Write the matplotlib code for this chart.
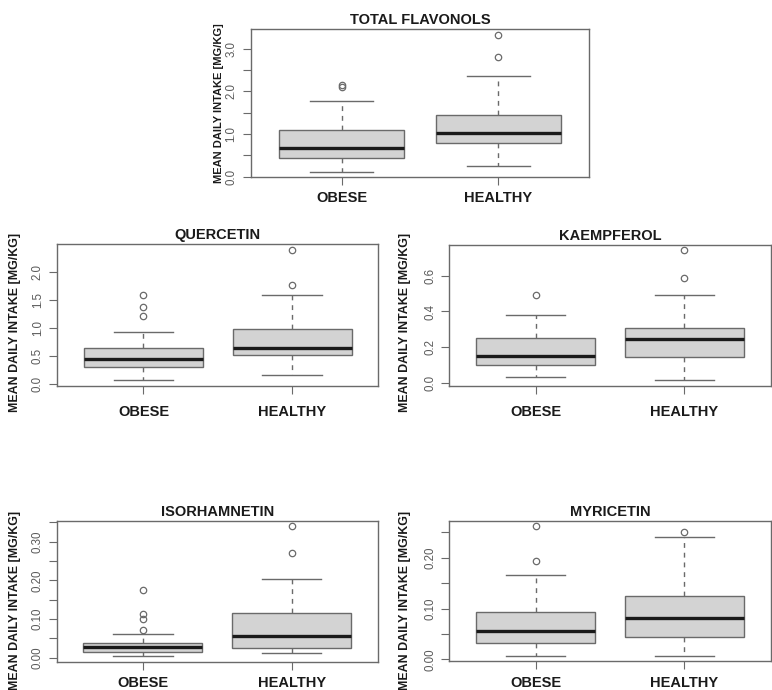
import matplotlib
matplotlib.use("Agg")
import matplotlib.pyplot as plt

# ---- data -------------------------------------------------------------
compounds = ["TOTAL FLAVONOLS", "QUERCETIN", "KAEMPFEROL", "ISORHAMNETIN", "MYRICETIN"]
groups = ["OBESE", "HEALTHY"]

# box-plot statistics per compound: [obese, healthy]
whislo = [[0.117, 0.25], [0.07, 0.17], [0.030, 0.013], [0.0035, 0.012], [0.0066, 0.0066]]
q1 = [[0.446, 0.78], [0.30, 0.52], [0.102, 0.142], [0.0156, 0.025], [0.033, 0.044]]
med = [[0.68, 1.02], [0.45, 0.64], [0.151, 0.247], [0.028, 0.056], [0.056, 0.081]]
q3 = [[1.10, 1.45], [0.64, 0.98], [0.253, 0.308], [0.038, 0.115], [0.093, 0.125]]
whishi = [[1.78, 2.37], [0.92, 1.58], [0.383, 0.494], [0.062, 0.204], [0.166, 0.241]]
fliers = [
    [[2.10, 2.14], [2.80, 3.33]],
    [[1.22, 1.375, 1.59], [1.76, 2.39]],
    [[0.492], [0.587, 0.747]],
    [[0.073, 0.100, 0.114, 0.175], [0.271, 0.340]],
    [[0.194, 0.262], [0.251]],
]

ytick_values = [
    [0.0, 0.5, 1.0, 1.5, 2.0, 2.5, 3.0],
    [0.0, 0.5, 1.0, 1.5, 2.0],
    [0.0, 0.2, 0.4, 0.6],
    [0.0, 0.05, 0.10, 0.15, 0.20, 0.25, 0.30, 0.35],
    [0.0, 0.05, 0.10, 0.15, 0.20, 0.25],
]
ytick_labels = [
    ["0.0", "", "1.0", "", "2.0", "", "3.0"],
    ["0.0", "0.5", "1.0", "1.5", "2.0"],
    ["0.0", "0.2", "0.4", "0.6"],
    ["0.00", "", "0.10", "", "0.20", "", "0.30", ""],
    ["0.00", "", "0.10", "", "0.20", ""],
]
ylabel = "MEAN DAILY INTAKE [MG/KG]"

# ---- layout (pixels on a 772 x 690 canvas) ----------------------------
W, H = 772, 690
boxes_px = [  # left, top, right, bottom
    (251, 29.3, 589, 177),
    (57.3, 244.3, 378.3, 385.6),
    (449.5, 244.5, 770.5, 385.6),
    (56.7, 521, 378, 661.7),
    (449.5, 521, 770.5, 661.2),
]
ylabel_pos = [(219, 103.5), (15, 322), (405, 322), (15, 600), (405, 600)]
ylabel_size = [8.0, 8.9, 8.9, 8.9, 8.9]
xlabel_pad = [4.5, 8.3, 8.3, 4.9, 5.2]

BOLD = ["Liberation Sans", "DejaVu Sans"]
REG = ["Liberation Sans", "DejaVu Sans"]
FRAME = "#6a6a6a"
BOXFILL = "#d3d3d3"
INK = "#1a1a1a"

fig = plt.figure(figsize=(W / 100, H / 100), dpi=100)

for i, name in enumerate(compounds):
    l, t, r, b = boxes_px[i]
    ax = fig.add_axes([l / W, 1 - b / H, (r - l) / W, (b - t) / H])

    stats = []
    for g in range(2):
        stats.append(dict(label=groups[g], whislo=whislo[i][g], q1=q1[i][g],
                          med=med[i][g], q3=q3[i][g], whishi=whishi[i][g],
                          fliers=fliers[i][g]))
    ax.bxp(stats, positions=[1, 2], widths=0.8, patch_artist=True,
           boxprops=dict(facecolor=BOXFILL, edgecolor=FRAME, linewidth=1.0),
           medianprops=dict(color=INK, linewidth=2.4, solid_capstyle="butt"),
           whiskerprops=dict(color=FRAME, linewidth=1.0, linestyle=(0, (3.5, 3.5))),
           capprops=dict(color=FRAME, linewidth=1.0),
           capwidths=0.4,
           flierprops=dict(marker="o", markerfacecolor="none",
                           markeredgecolor=FRAME, markersize=4.6,
                           markeredgewidth=0.9))

    # axis limits padded 4 % beyond the data range
    lo = min(whislo[i][0], whislo[i][1])
    hi = max([whishi[i][0], whishi[i][1]] + fliers[i][0] + fliers[i][1])
    pad = 0.04 * (hi - lo)
    ax.set_ylim(lo - pad, hi + pad)
    ax.set_xlim(0.42, 2.58)

    ax.set_yticks(ytick_values[i])
    ax.set_yticklabels(ytick_labels[i], rotation=90, va="center",
                       family=REG, fontsize=8.3, color="#5a5a5a")
    ax.set_xticks([1, 2])
    ax.set_xticklabels(groups, family=BOLD, fontweight="bold",
                       fontsize=10.5, color=INK)
    ax.tick_params(axis="y", length=5.5, width=0.8, color=FRAME, pad=4.2)
    ax.tick_params(axis="x", length=5.5, width=0.8, color=FRAME,
                   pad=xlabel_pad[i])
    for s in ax.spines.values():
        s.set_color(FRAME)
        s.set_linewidth(1.0)

    ax.set_title(name, family=BOLD, fontweight="bold", fontsize=10.5,
                 color=INK, pad=3.6)

    x, y = ylabel_pos[i]
    fig.text(x / W, 1 - y / H, ylabel, rotation=90, ha="center", va="center",
             family=BOLD, fontweight="bold", fontsize=ylabel_size[i], color=INK)

fig.savefig("out.png", dpi=100)
